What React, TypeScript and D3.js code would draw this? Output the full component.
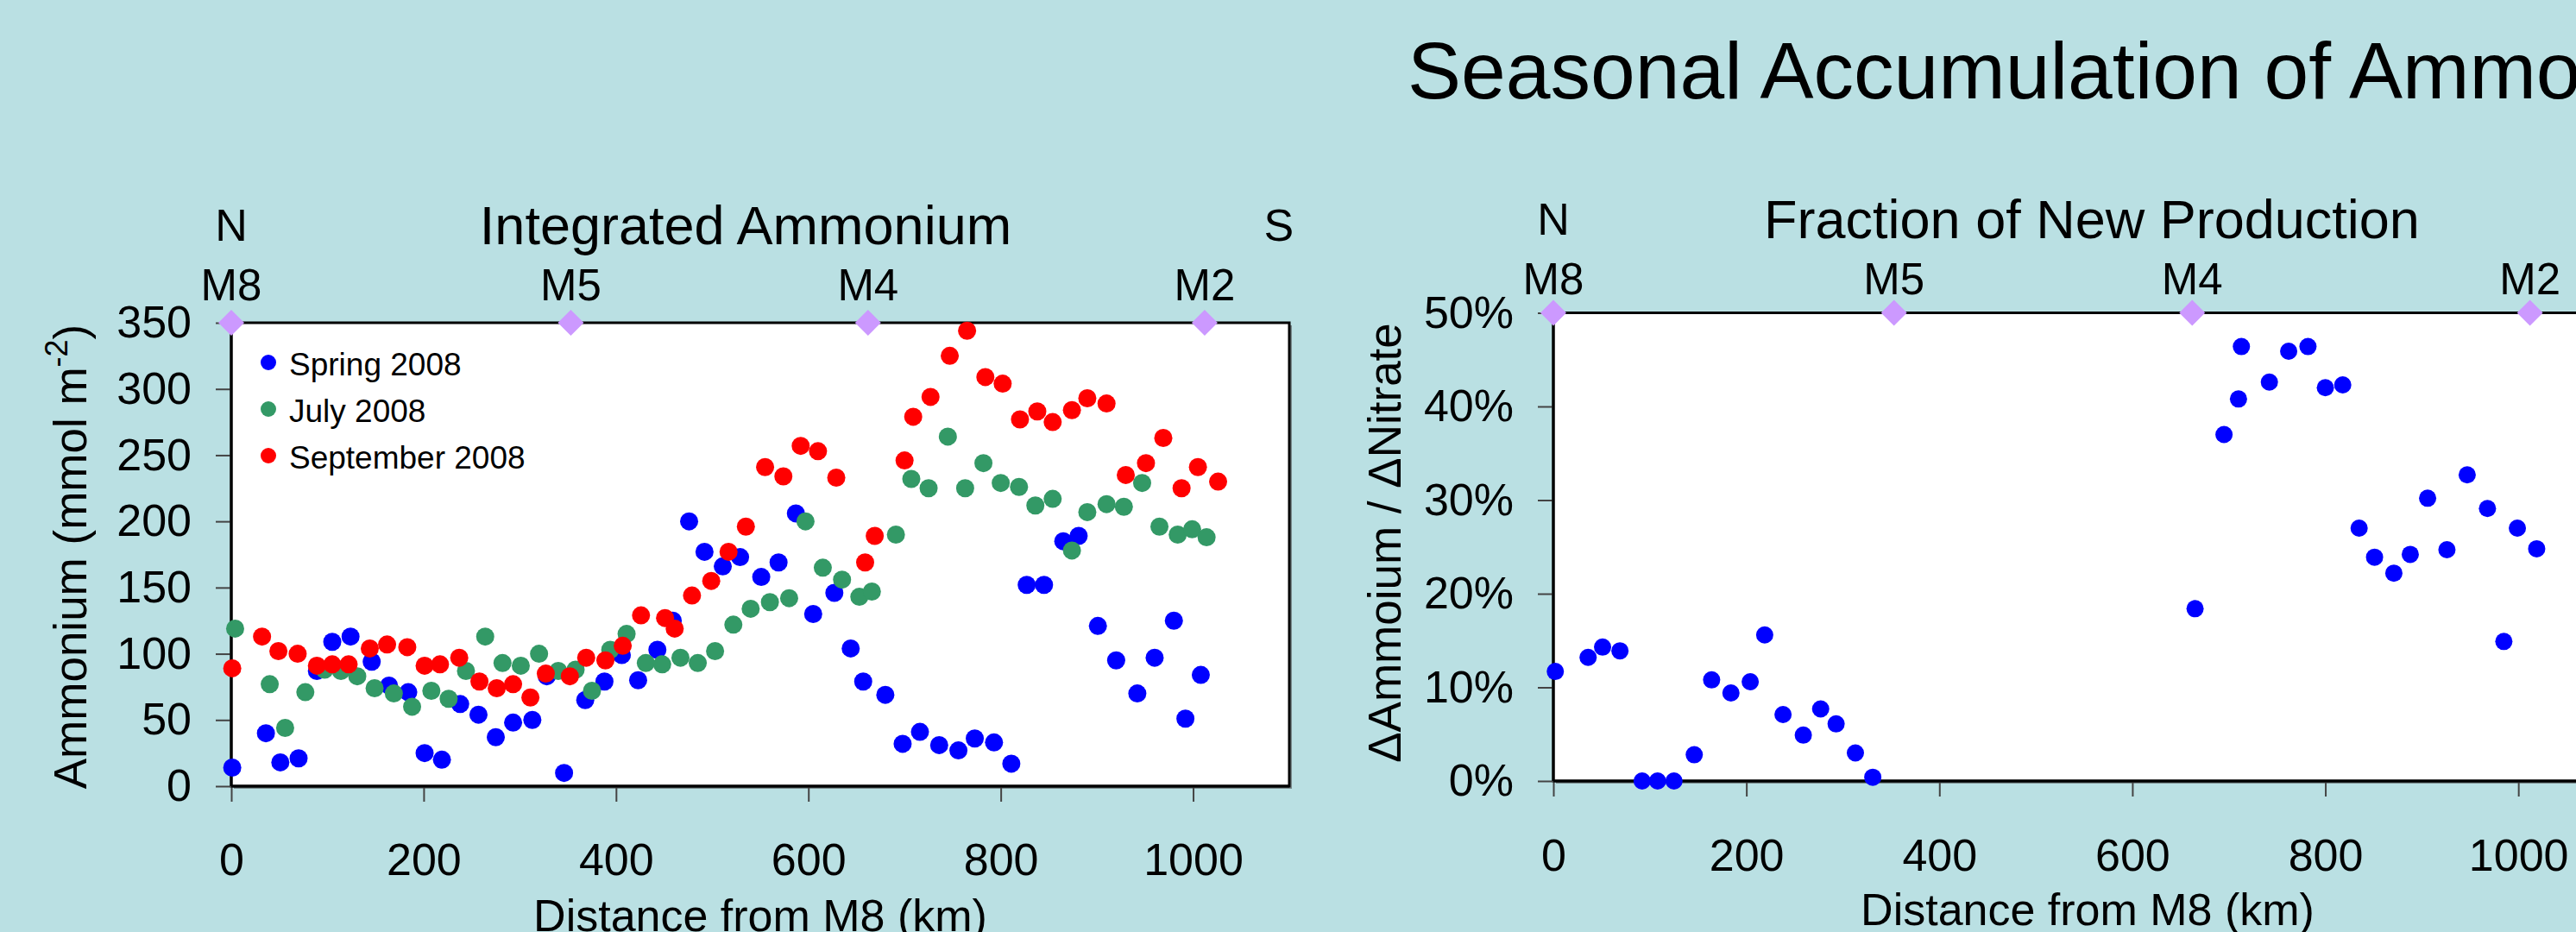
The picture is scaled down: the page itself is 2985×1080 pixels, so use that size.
import * as d3 from "d3";
import { useEffect, useRef } from "react";

const W = 2985;
const H = 1080;
const FONT = "'Liberation Sans', Arial, sans-serif";
const BG = "#bae0e3";

// station positions along the transect (km from M8)
const stationNames = ["M8", "M5", "M4", "M2"];
const stationKm = [0, 353, 662, 1012];

const distanceTicks = [0, 200, 400, 600, 800, 1000];
const ammoniumTicks = [0, 50, 100, 150, 200, 250, 300, 350];
const fractionTicks = [0, 0.1, 0.2, 0.3, 0.4, 0.5];

const seriesNames = ["Spring 2008", "July 2008", "September 2008"];
const seriesColors = ["#0000ff", "#339966", "#ff0000"];

// [distance km, ammonium mmol m-2]
const spring2008: [number, number][] = [
  [1, 14], [36, 40], [51, 18], [70, 21], [89, 87], [105, 109], [124, 113], [146, 94],
  [164, 76], [184, 71], [201, 25], [219, 20], [238, 62], [257, 54], [275, 37], [293, 48],
  [313, 50], [328, 83], [346, 10], [368, 65], [388, 79], [406, 99], [423, 80], [443, 103],
  [459, 125], [476, 200], [492, 177], [511, 166], [529, 173], [551, 158], [569, 169],
  [587, 206], [605, 130], [627, 146], [644, 104], [657, 79], [680, 69], [698, 32], [716, 41],
  [736, 31], [756, 27], [773, 36], [793, 33], [811, 17], [827, 152], [845, 152], [865, 185],
  [881, 189], [901, 121], [920, 95], [942, 70], [960, 97], [980, 125], [992, 51], [1008, 84],
];

const july2008: [number, number][] = [
  [4, 119], [40, 77], [56, 44], [77, 71], [97, 88], [114, 87], [131, 83], [149, 74],
  [169, 70], [188, 60], [208, 72], [226, 66], [244, 87], [264, 113], [282, 93], [301, 91],
  [320, 100], [340, 87], [358, 88], [375, 72], [394, 103], [411, 115], [431, 93], [448, 92],
  [467, 97], [485, 93], [503, 102], [522, 122], [540, 134], [560, 139], [580, 142],
  [597, 200], [615, 165], [635, 156], [653, 143], [666, 147], [691, 190], [707, 232],
  [725, 225], [745, 264], [763, 225], [782, 244], [800, 229], [819, 226], [836, 212],
  [854, 217], [874, 178], [890, 207], [910, 213], [928, 211], [947, 229], [965, 196],
  [984, 190], [999, 194], [1014, 188],
];

const september2008: [number, number][] = [
  [1, 89], [32, 113], [49, 102], [69, 100], [89, 91], [105, 92], [122, 92], [144, 104],
  [162, 107], [183, 105], [201, 91], [217, 92], [237, 97], [258, 79], [276, 74], [293, 77],
  [311, 67], [327, 85], [352, 83], [369, 97], [389, 95], [407, 106], [426, 129], [451, 127],
  [461, 119], [479, 144], [499, 155], [517, 177], [535, 196], [555, 241], [574, 234],
  [592, 257], [610, 253], [629, 233], [659, 169], [669, 189], [700, 246], [709, 279],
  [727, 294], [747, 325], [765, 344], [784, 309], [802, 304], [820, 277], [838, 283],
  [854, 275], [874, 284], [890, 293], [910, 289], [930, 235], [951, 244], [969, 263],
  [988, 225], [1005, 241], [1026, 230],
];

// [distance km, d ammonium / d nitrate]
const newProductionFraction: [number, number][] = [
  [2, 0.117], [36, 0.132], [51, 0.143], [69, 0.139], [92, 0.0], [108, 0.0], [125, 0.0],
  [146, 0.028], [164, 0.108], [184, 0.094], [204, 0.106], [219, 0.156], [238, 0.071],
  [259, 0.049], [277, 0.077], [293, 0.061], [313, 0.03], [331, 0.004], [665, 0.184],
  [695, 0.37], [710, 0.408], [713, 0.464], [742, 0.426], [762, 0.459], [782, 0.464],
  [800, 0.42], [818, 0.423], [835, 0.27], [851, 0.239], [871, 0.222], [888, 0.242],
  [906, 0.302], [926, 0.247], [947, 0.327], [968, 0.291], [985, 0.149], [999, 0.27],
  [1019, 0.248],
];

const drawPanel = (svg, p) => {
  const x = d3.scaleLinear().domain([0, 1100]).range([p.left, p.right]);
  const y = d3.scaleLinear().domain(p.yDomain).range([p.bottom, p.top]);
  const g = svg.append("g");

  // plot frame with small shadow
  g.append("rect")
    .attr("x", p.left + 3)
    .attr("y", p.top + 3)
    .attr("width", p.right - p.left)
    .attr("height", p.bottom - p.top)
    .attr("fill", "#7a8a8c");
  g.append("rect")
    .attr("x", p.left)
    .attr("y", p.top)
    .attr("width", p.right - p.left)
    .attr("height", p.bottom - p.top)
    .attr("fill", "white")
    .attr("stroke", "black")
    .attr("stroke-width", 3);

  const xAxis = g
    .append("g")
    .attr("transform", "translate(0," + p.bottom + ")")
    .call(
      d3.axisBottom(x).tickValues(distanceTicks).tickFormat(d3.format("d"))
        .tickSize(18).tickSizeOuter(0).tickPadding(p.xPad)
    );
  const yAxis = g
    .append("g")
    .attr("transform", "translate(" + p.left + ",0)")
    .call(d3.axisLeft(y).tickValues(p.yTicks).tickFormat(p.yFormat).tickSize(18).tickSizeOuter(0).tickPadding(28));
  [xAxis, yAxis].forEach((a) => {
    a.select(".domain").remove();
    a.selectAll("line").attr("stroke", "#444").attr("stroke-width", 2);
    a.selectAll("text").attr("font-family", FONT).attr("font-size", 52).attr("fill", "black");
  });
  g.append("line")
    .attr("x1", p.left).attr("x2", p.right)
    .attr("y1", p.bottom).attr("y2", p.bottom)
    .attr("stroke", "black").attr("stroke-width", 3);
  g.append("line")
    .attr("x1", p.left).attr("x2", p.left)
    .attr("y1", p.top).attr("y2", p.bottom)
    .attr("stroke", "black").attr("stroke-width", 3);

  // data points
  p.series.forEach((s, i) => {
    g.append("g")
      .selectAll("circle")
      .data(s)
      .join("circle")
      .attr("cx", (d) => x(d[0]))
      .attr("cy", (d) => y(d[1]))
      .attr("r", p.r)
      .attr("fill", p.colors[i]);
  });

  // stations
  g.selectAll(".station")
    .data(stationKm)
    .join("path")
    .attr("d", "M0,-15L15,0L0,15L-15,0Z")
    .attr("transform", (d) => "translate(" + x(d) + "," + p.top + ")")
    .attr("fill", "#cc99ff");
  g.selectAll(".stationLabel")
    .data(stationNames)
    .join("text")
    .attr("x", (d, i) => x(stationKm[i]))
    .attr("y", p.stationY)
    .attr("text-anchor", "middle")
    .attr("font-family", FONT)
    .attr("font-size", 51)
    .text((d) => d);

  const txt = (tx, ty, s, size, anchor = "middle") =>
    g.append("text")
      .attr("x", tx)
      .attr("y", ty)
      .attr("text-anchor", anchor)
      .attr("font-family", FONT)
      .attr("font-size", size)
      .text(s);

  txt(x(0), p.nsY, "N", 52);
  if (p.showS) txt(x(1089), p.nsY, "S", 52);
  txt(p.titleX, p.titleY, p.title, 63);
  txt(p.xTitleX, p.xTitleY, "Distance from M8 (km)", 52);

  const yt = g.append("text")
    .attr("transform", "translate(" + p.yTitleX + "," + p.yTitleY + ") rotate(-90)")
    .attr("text-anchor", "middle")
    .attr("font-family", FONT)
    .attr("font-size", 53);
  p.yTitle(yt);

  return { x, y, g };
};

const App = () => {
  const ref = useRef(null);

  useEffect(() => {
    const svg = d3.select(ref.current);
    svg.selectAll("*").remove();

    svg.append("rect").attr("width", W).attr("height", H).attr("fill", BG);

    svg.append("text")
      .attr("x", 1631)
      .attr("y", 114)
      .attr("font-family", FONT)
      .attr("font-size", 93)
      .text("Seasonal Accumulation of Ammonium");

    const left = drawPanel(svg, {
      left: 268, right: 1494, top: 374, bottom: 911,
      yDomain: [0, 350], yTicks: ammoniumTicks, yFormat: d3.format("d"),
      xPad: 48, r: 10.5, showS: true,
      series: [spring2008, july2008, september2008], colors: seriesColors,
      stationY: 348, nsY: 279,
      title: "Integrated Ammonium", titleX: 864, titleY: 283,
      xTitleX: 881, xTitleY: 1079,
      yTitleX: 100, yTitleY: 645,
      yTitle: (t) => {
        t.append("tspan").text("Ammonium (mmol m");
        t.append("tspan").attr("font-size", 36).attr("dy", -22).text("-2");
        t.append("tspan").attr("dy", 22).text(")");
      },
    });

    // legend
    const lg = left.g.append("g");
    seriesNames.forEach((name, i) => {
      lg.append("circle").attr("cx", 311).attr("cy", 420 + i * 54).attr("r", 9).attr("fill", seriesColors[i]);
      lg.append("text")
        .attr("x", 335)
        .attr("y", 435 + i * 54)
        .attr("font-family", FONT)
        .attr("font-size", 37)
        .text(name);
    });

    drawPanel(svg, {
      left: 1800, right: 3030, top: 362.5, bottom: 905,
      yDomain: [0, 0.5], yTicks: fractionTicks, yFormat: d3.format(".0%"),
      xPad: 49, r: 10, showS: false,
      series: [newProductionFraction], colors: ["#0000ff"],
      stationY: 341, nsY: 272,
      title: "Fraction of New Production", titleX: 2424, titleY: 276,
      xTitleX: 2419, xTitleY: 1072,
      yTitleX: 1623, yTitleY: 629,
      yTitle: (t) => {
        t.text("\u0394Ammoium / \u0394Nitrate");
      },
    });
  }, []);

  return (
    <svg
      ref={ref}
      width={W}
      height={H}
      style={{ position: "absolute", left: 0, top: 0, display: "block" }}
    />
  );
};

export default App;
